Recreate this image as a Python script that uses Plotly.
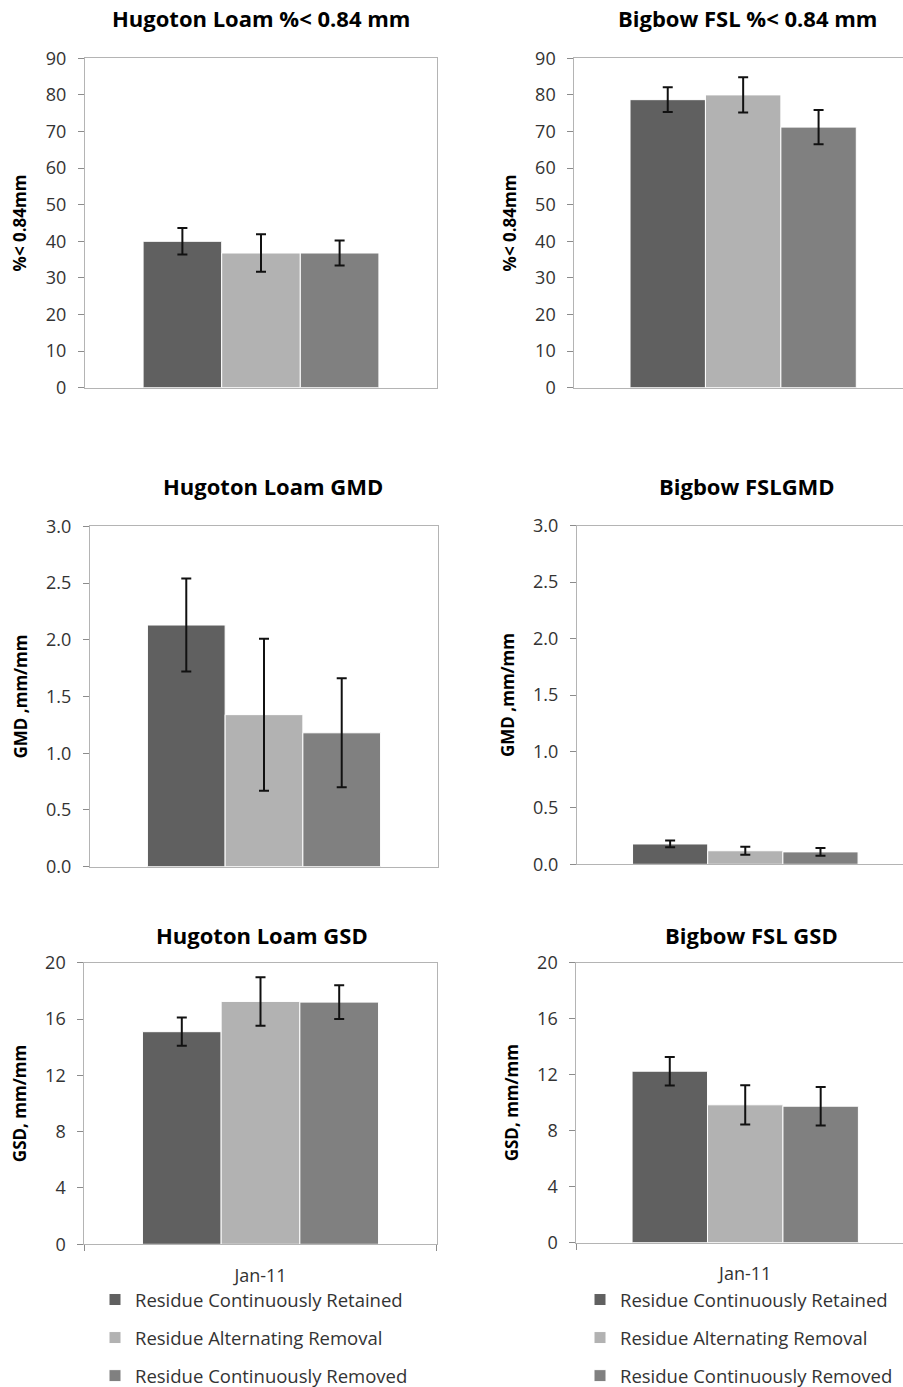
import plotly.graph_objects as go

# ---- data -------------------------------------------------------------
category = ["Jan-11"]
series_names = [
    "Residue Continuously Retained",
    "Residue Alternating Removal",
    "Residue Continuously Removed",
]
series_colors = ["#606060", "#b2b2b2", "#808080"]

# Hugoton Loam
hug_pct = [40.0, 36.8, 36.8]
hug_pct_err = [3.6, 5.1, 3.4]
hug_gmd = [2.13, 1.34, 1.18]
hug_gmd_err = [0.41, 0.67, 0.48]
hug_gsd = [15.1, 17.25, 17.2]
hug_gsd_err = [1.0, 1.72, 1.2]

# Bigbow FSL
big_pct = [78.7, 80.0, 71.2]
big_pct_err = [3.4, 4.8, 4.7]
big_gmd = [0.18, 0.12, 0.11]
big_gmd_err = [0.03, 0.035, 0.035]
big_gsd = [12.25, 9.85, 9.75]
big_gsd_err = [1.02, 1.4, 1.38]

panel_titles = [
    "Hugoton Loam %< 0.84 mm", "Bigbow FSL %< 0.84 mm",
    "Hugoton Loam GMD", "Bigbow FSLGMD",
    "Hugoton Loam GSD", "Bigbow FSL GSD",
]
y_titles = ["%< 0.84mm", "%< 0.84mm", "GMD ,mm/mm", "GMD ,mm/mm",
            "GSD, mm/mm", "GSD, mm/mm"]

# ---- layout geometry (pixels) ----------------------------------------
W, H = 903, 1387
FONT = "Open Sans"

# (left px, right px, top px, bottom px, x-range upper end)
panels = [
    (85.0, 437.0, 58.3, 387.7, 0.5),
    (574.3, 903.0, 58.3, 387.7, 0.4733),
    (90.0, 438.0, 526.3, 866.7, 0.5),
    (577.0, 903.0, 525.7, 864.3, 0.4685),
    (84.3, 436.7, 962.7, 1244.3, 0.5),
    (576.3, 903.0, 962.7, 1242.7, 0.467),
]
y_ranges = [(0, 90), (0, 90), (0, 3), (0, 3), (0, 20), (0, 20)]
y_dticks = [10, 10, 0.5, 0.5, 4, 4]
y_formats = ["d", "d", ".1f", ".1f", "d", "d"]
title_pos = [(261, 18), (747, 18), (273, 486), (747, 486), (262, 935), (751, 935)]

values = [hug_pct, big_pct, hug_gmd, big_gmd, hug_gsd, big_gsd]
errors = [hug_pct_err, big_pct_err, hug_gmd_err, big_gmd_err, hug_gsd_err, big_gsd_err]

fig = go.Figure()

for p in range(6):
    ax = "" if p == 0 else str(p + 1)
    xref, yref = "x" + ax, "y" + ax
    bottom_row = p >= 4
    legend_name = "legend" if p % 2 == 0 else "legend2"
    for s in range(3):
        fig.add_trace(go.Bar(
            x=category,
            y=[values[p][s]],
            name=series_names[s],
            marker=dict(color=series_colors[s], line=dict(color="white", width=1)),
            error_y=dict(type="data", array=[errors[p][s]], visible=True,
                         color="#111111", thickness=2, width=5),
            xaxis=xref, yaxis=yref,
            legendgroup=series_names[s],
            showlegend=bottom_row,
            legend=legend_name,
        ))

    left, right, top, bottom, xr = panels[p]
    xa = dict(
        domain=[left / W, right / W],
        anchor=yref,
        type="category",
        range=[-0.5, xr],
        showline=True, linecolor="#b4b4b4", linewidth=1,
        mirror=True,
        showgrid=False, zeroline=False,
        ticks="outside" if bottom_row else "",
        tickson="boundaries", ticklen=6, tickcolor="#8c8c8c",
        showticklabels=bottom_row,
        tickfont=dict(family=FONT, size=18, color="#333333"),
        ticklabelstandoff=15,
    )
    ya = dict(
        domain=[1 - bottom / H, 1 - top / H],
        anchor=xref,
        range=list(y_ranges[p]),
        dtick=y_dticks[p], tick0=0, tickformat=y_formats[p],
        showline=True, linecolor="#b4b4b4", linewidth=1,
        mirror=(p % 2 == 0),
        showgrid=False, zeroline=False,
        ticks="outside", ticklen=6, tickcolor="#8c8c8c",
        tickfont=dict(family=FONT, size=18, color="#333333"),
        ticklabelstandoff=8,
        title=dict(text=y_titles[p], standoff=14,
                   font=dict(family=FONT, size=17, color="#000000", weight="bold")),
    )
    fig.layout["xaxis" + ax] = xa
    fig.layout["yaxis" + ax] = ya

    tx, ty = title_pos[p]
    fig.add_annotation(
        text="<b>" + panel_titles[p] + "</b>",
        x=tx / W, y=1 - ty / H, xref="paper", yref="paper",
        xanchor="center", yanchor="middle", showarrow=False,
        font=dict(family=FONT, size=22, color="#000000"),
    )

legend_common = dict(
    orientation="v",
    bgcolor="rgba(0,0,0,0)",
    font=dict(family=FONT, size=18.5, color="#333333"),
    tracegroupgap=11,
    itemclick=False, itemdoubleclick=False,
    xanchor="left", yanchor="top",
)

fig.update_layout(
    width=W, height=H,
    margin=dict(l=0, r=0, t=0, b=0, autoexpand=False),
    paper_bgcolor="white", plot_bgcolor="white",
    barmode="group", bargap=0.33, bargroupgap=0,
    font=dict(family=FONT, color="#333333"),
    legend=dict(x=95 / W, y=1 - 1281 / H, **legend_common),
    legend2=dict(x=580 / W, y=1 - 1281 / H, **legend_common),
)

fig.write_html("out.html")
